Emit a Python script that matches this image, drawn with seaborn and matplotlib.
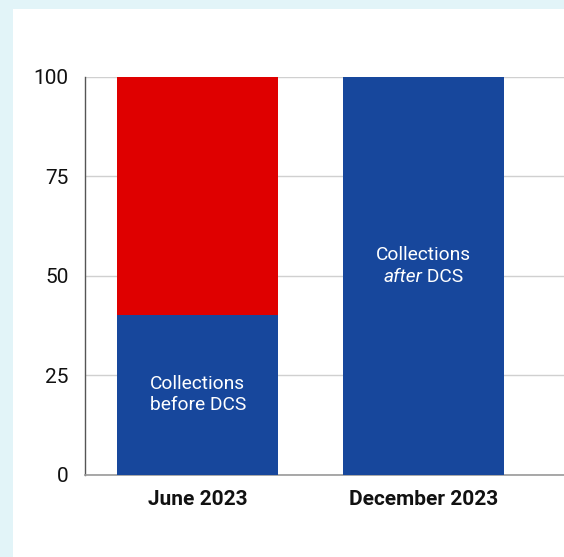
import matplotlib
matplotlib.use("Agg")
import matplotlib.pyplot as plt
import seaborn as sns
import pandas as pd
from matplotlib.patches import Rectangle

periods = ["June 2023", "December 2023"]
before_dcs = [40, 0]
after_dcs = [0, 100]
remaining = [60, 0]
yticks = [0, 25, 50, 75, 100]

BLUE = "#17479c"
RED = "#df0000"

sns.set_theme(style="white")
plt.rcParams["font.family"] = ["Roboto", "DejaVu Sans"]

fig = plt.figure(figsize=(5.64, 5.57), dpi=100, facecolor="#e2f4f8")
fig.patches.append(Rectangle((13 / 564, 0), 1 - 13 / 564, 1 - 9 / 557,
                             transform=fig.transFigure, facecolor="white",
                             edgecolor="none", zorder=-10))
ax = fig.add_axes([84.5 / 564, 1 - 474.5 / 557, 1 - 84.5 / 564, (474.5 - 76.7) / 557])
ax.set_facecolor("none")

blue_vals = [b + a for b, a in zip(before_dcs, after_dcs)]
df_blue = pd.DataFrame({"period": periods, "value": blue_vals})
df_total = pd.DataFrame({"period": periods,
                         "value": [b + r for b, r in zip(blue_vals, remaining)]})

sns.barplot(data=df_total, x="period", y="value", color=RED, saturation=1,
            width=0.712, ax=ax, edgecolor="none", linewidth=0, zorder=2)
sns.barplot(data=df_blue, x="period", y="value", color=BLUE, saturation=1,
            width=0.712, ax=ax, edgecolor="none", linewidth=0, zorder=3)

ax.set_xlim(-0.502, 1.622)
ax.set_ylim(0, 100)
ax.set_yticks(yticks)
ax.set_yticklabels([str(t) for t in yticks], fontsize=15, color="#111111")
ax.tick_params(axis="y", length=0, pad=11.5)
ax.tick_params(axis="x", length=0, pad=11)
for lbl in ax.get_xticklabels():
    lbl.set_fontweight("bold")
    lbl.set_fontsize(15)
    lbl.set_color("#111111")
ax.set_xlabel("")
ax.set_ylabel("")
ax.grid(axis="y", color="#d0d0d0", linewidth=1, zorder=0)
ax.set_axisbelow(True)

for s in ["top", "right"]:
    ax.spines[s].set_visible(False)
ax.spines["left"].set_color("#555555")
ax.spines["left"].set_linewidth(1.0)
ax.spines["bottom"].set_color("#999999")
ax.spines["bottom"].set_linewidth(1.2)

ax.text(0, before_dcs[0] / 2, "Collections\nbefore DCS", color="white",
        fontsize=13.8, ha="center", va="center", linespacing=1.22, zorder=5)
ax.text(1, 55.3, "Collections", color="white",
        fontsize=13.8, ha="center", va="center", zorder=5)
t1 = ax.text(0.995, 49.7, "after", color="white", style="italic",
             fontsize=13.8, ha="right", va="center", zorder=5)
ax.annotate(" DCS", xy=(1, 0), xycoords=t1, xytext=(0, 0), textcoords="offset points",
            color="white", fontsize=13.8, ha="left", va="bottom", zorder=5)

fig.savefig("out.png", dpi=100, facecolor=fig.get_facecolor())
